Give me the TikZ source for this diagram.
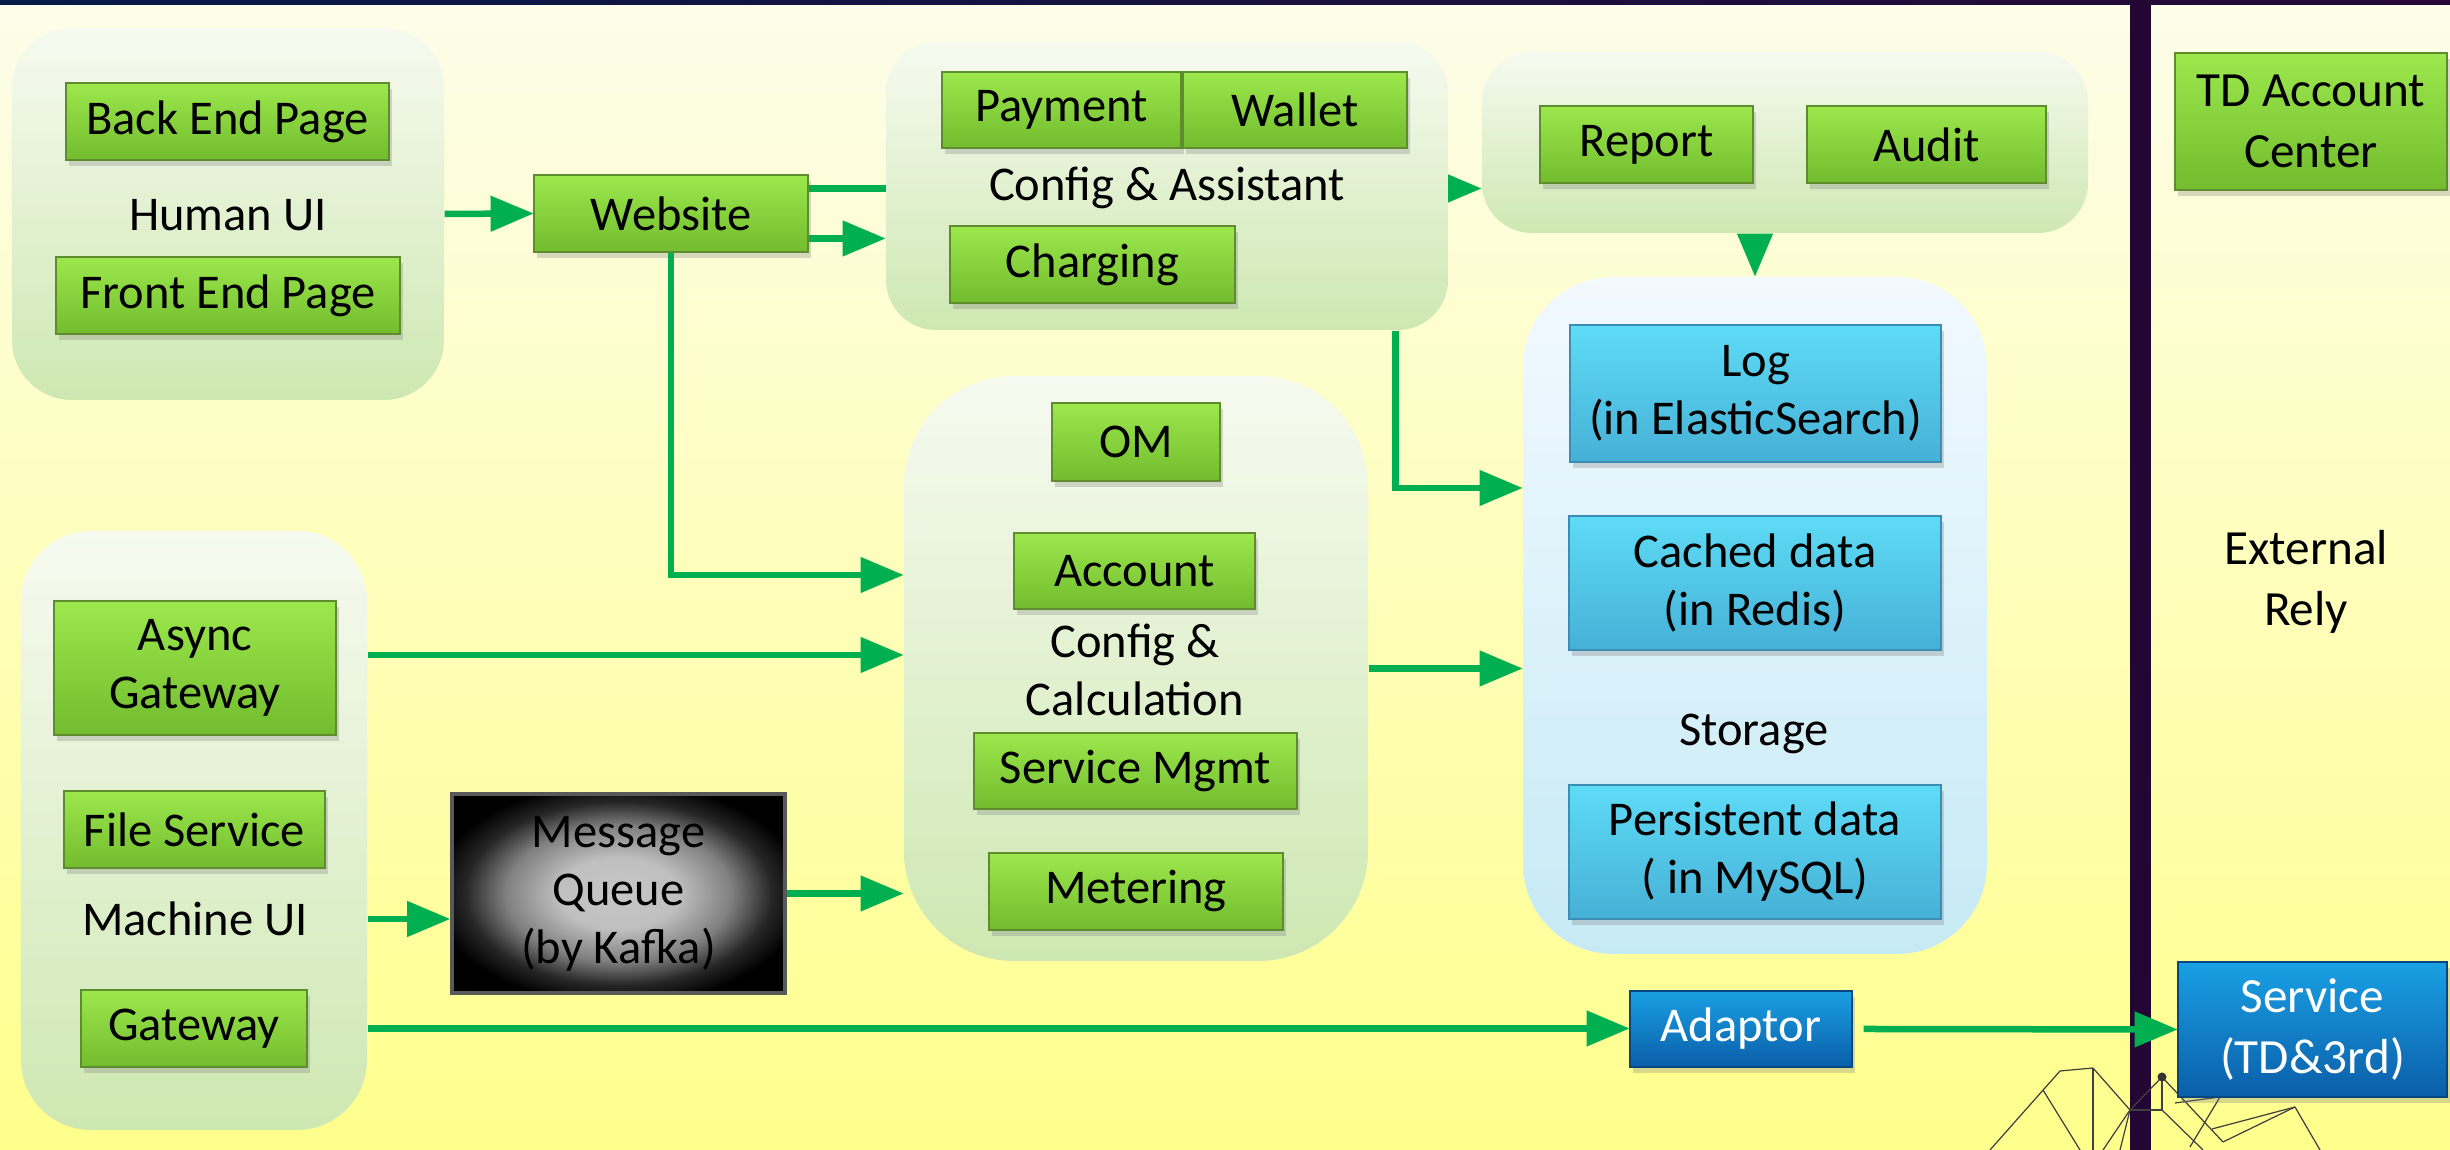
\documentclass[tikz,border=0pt]{standalone}
\usepackage{fontspec}
\setmainfont{Carlito}
\usepackage{tikz}
\usetikzlibrary{shapes,arrows,shadows}

\pgfdeclareradialshading{mqglow}{\pgfpoint{0bp}{0bp}}{color(0bp)=(black!22); color(9bp)=(black!25); color(17bp)=(black!50); color(23bp)=(black!85); color(28bp)=(black); color(50bp)=(black)}

\begin{document}
\begin{tikzpicture}[
  grp/.style={inner sep=0pt, top color=grpTop, bottom color=grpBot},
  stgrp/.style={inner sep=0pt, top color=stTop, bottom color=stBot, rounded corners=9mm},
  gbox/.style={draw=gEdge, top color=gTop, bottom color=gBot, inner sep=0pt, align=center,
    font=\fontsize{13.8}{16.5}\selectfont,
    drop shadow={opacity=0.3, shadow xshift=0.03cm, shadow yshift=-0.06cm}},
  sbox/.style={gbox, draw=sEdge, top color=sTop, bottom color=sBot},
  bbox/.style={gbox, draw=bEdge, top color=bTop, bottom color=bBot, text=white},
  lbl/.style={align=center, font=\fontsize{13.8}{16.5}\selectfont},
  flow/.style={->, >=triangle 45, line width=1.85pt, draw=flowGreen},
  deco/.style={line width=0.35pt, draw=black!75}
]
\definecolor{bgTop}{RGB}{253,253,234}
\definecolor{bgBot}{RGB}{255,255,140}
\definecolor{barLeft}{RGB}{6,26,72}
\definecolor{barRight}{RGB}{40,8,54}
\definecolor{sideBar}{RGB}{36,6,52}
\definecolor{grpTop}{RGB}{246,250,240}
\definecolor{grpBot}{RGB}{206,232,178}
\definecolor{stTop}{RGB}{242,249,255}
\definecolor{stBot}{RGB}{198,234,245}
\definecolor{gTop}{RGB}{156,232,76}
\definecolor{gBot}{RGB}{114,188,46}
\definecolor{gEdge}{RGB}{94,140,46}
\definecolor{sTop}{RGB}{94,220,246}
\definecolor{sBot}{RGB}{70,176,214}
\definecolor{sEdge}{RGB}{60,140,180}
\definecolor{bTop}{RGB}{26,160,228}
\definecolor{bBot}{RGB}{10,94,168}
\definecolor{bEdge}{RGB}{8,70,130}
\definecolor{flowGreen}{RGB}{0,176,80}

\useasboundingbox (0,0) rectangle (24.5,11.5);
\shade[top color=bgTop, bottom color=bgBot] (0,0) rectangle (24.5,11.5);
\shade[left color=barLeft, right color=barRight] (0,11.45) rectangle (24.5,11.5);
\fill[sideBar] (21.30,0) rectangle (21.51,11.5);
\foreach \xa/\ya/\xb/\yb in {19.90/0.00/20.60/0.79, 20.60/0.79/20.93/0.82, 20.93/0.82/20.93/0.00,
    20.43/0.60/20.80/0.00, 20.93/0.82/21.30/0.40, 21.30/0.40/21.62/0.73, 21.30/0.40/21.62/0.40,
    21.62/0.73/21.62/0.40, 21.30/0.40/21.03/0.00, 21.30/0.40/21.20/0.00, 21.62/0.73/22.23/0.08,
    21.75/0.47/22.20/0.53, 22.20/0.53/21.90/0.03, 22.12/0.21/22.95/0.43, 22.23/0.08/22.95/0.43,
    22.95/0.43/23.20/0.00, 21.62/0.40/22.03/0.00}
  \draw[deco] (\xa,\ya) -- (\xb,\yb);
\fill[black!80] (21.62,0.73) circle (0.045);

\node[grp, rounded corners=6mm, minimum width=4.32cm, minimum height=3.72cm] (human) at (2.28,9.36) {};
\node[grp, rounded corners=5mm, minimum width=6.06cm, minimum height=1.81cm] (reportgrp) at (17.85,10.075) {};
\node[stgrp, minimum width=4.64cm, minimum height=6.77cm] (storage) at (17.55,5.345) {};
\node[grp, rounded corners=11mm, minimum width=4.64cm, minimum height=5.85cm] (calc) at (11.36,4.815) {};
\node[grp, rounded corners=7mm, minimum width=3.46cm, minimum height=5.99cm] (machine) at (1.94,3.195) {};

\node[gbox, minimum width=3.23cm, minimum height=0.77cm] (backend) at (2.275,10.285) {Back End Page};
\node[lbl] (humanlbl) at (2.28,9.35) {Human UI};
\node[gbox, minimum width=3.44cm, minimum height=0.77cm] (frontend) at (2.28,8.545) {Front End Page};
\node[gbox, minimum width=2.74cm, minimum height=0.77cm] (website) at (6.71,9.365) {Website};

\node[gbox, minimum width=2.13cm, minimum height=0.77cm] (report) at (16.465,10.055) {Report};
\node[gbox, minimum width=2.39cm, minimum height=0.77cm] (audit) at (19.265,10.055) {Audit};

\node[sbox, minimum width=3.71cm, minimum height=1.37cm] (log) at (17.555,7.565) {Log\\(in ElasticSearch)};
\node[sbox, minimum width=3.72cm, minimum height=1.34cm] (cached) at (17.55,5.67) {Cached data\\(in Redis)};
\node[lbl] (storagelbl) at (17.54,4.16) {Storage};
\node[sbox, minimum width=3.72cm, minimum height=1.34cm] (persist) at (17.55,2.98) {Persistent data\\( in MySQL)};

\node[gbox, minimum width=1.68cm, minimum height=0.78cm] (om) at (11.36,7.08) {OM};
\node[gbox, minimum width=2.41cm, minimum height=0.76cm] (account) at (11.345,5.79) {Account};
\node[lbl] (calclbl) at (11.35,4.80) {Config \&\\Calculation};
\node[gbox, minimum width=3.23cm, minimum height=0.76cm] (svcmgmt) at (11.355,3.79) {Service Mgmt};
\node[gbox, minimum width=2.94cm, minimum height=0.77cm] (metering) at (11.36,2.585) {Metering};

\node[gbox, minimum width=2.82cm, minimum height=1.34cm] (async) at (1.95,4.82) {Async\\Gateway};
\node[gbox, minimum width=2.61cm, minimum height=0.77cm] (filesvc) at (1.945,3.205) {File Service};
\node[lbl] (machinelbl) at (1.95,2.31) {Machine UI};
\node[gbox, minimum width=2.26cm, minimum height=0.77cm] (gateway) at (1.94,1.215) {Gateway};

\node[draw=black!65, line width=1.2pt, shading=mqglow, inner sep=0pt,
  minimum width=3.33cm, minimum height=1.99cm, align=center, font=\fontsize{13.8}{16.5}\selectfont]
  (mq) at (6.185,2.565) {Message\\Queue\\(by Kafka)};

\node[bbox, minimum width=2.22cm, minimum height=0.76cm] (adaptor) at (17.41,1.21) {Adaptor};
\node[bbox, minimum width=2.69cm, minimum height=1.35cm, font=\fontsize{14}{17.5}\selectfont] (service) at (23.125,1.205) {Service\\(TD\&3rd)};
\node[gbox, minimum width=2.72cm, minimum height=1.37cm, font=\fontsize{14}{17.5}\selectfont] (tdacc) at (23.11,10.285) {TD Account\\Center};
\node[lbl, font=\fontsize{14}{17.5}\selectfont] (extlbl) at (23.06,5.68) {External\\Rely};

\draw[flow] ([yshift=2.5mm]website.east) -- ([yshift=2.5mm]website.east -| reportgrp.west);

\node[grp, rounded corners=5mm, minimum width=5.62cm, minimum height=2.88cm] (confasst) at (11.67,9.64) {};
\node[gbox, minimum width=2.39cm, minimum height=0.76cm] (payment) at (10.615,10.40) {Payment};
\node[gbox, minimum width=2.24cm, minimum height=0.76cm] (wallet) at (12.95,10.40) {Wallet};
\node[lbl] (asstlbl) at (11.67,9.62) {Config \& Assistant};
\node[gbox, minimum width=2.85cm, minimum height=0.77cm] (charging) at (10.925,8.855) {Charging};

\draw[flow] (human.east) -- (website.west);
\draw[flow] ([yshift=-2.5mm]website.east) -- ([yshift=-2.5mm]website.east -| confasst.west);
\draw[flow] (website.south) |- ([yshift=9.35mm]calc.west);
\draw[flow] ([yshift=1.3mm]async.east -| machine.east) -- ([yshift=1.3mm]async.east -| calc.west);
\draw[flow] (machinelbl -| machine.east) -- (machinelbl -| mq.west);
\draw[flow] (mq.east) -- (mq.east -| calc.west);
\draw[flow] ([xshift=-5.3mm]confasst.south east) |- ([yshift=12.75mm]storage.west);
\draw[flow] (calc.east) -- (calc.east -| storage.west);
\draw[flow] ([yshift=-0.5mm]reportgrp.south -| storage.north) -- (storage.north);
\draw[flow] (gateway.east -| machine.east) -- (gateway.east -| adaptor.west);
\draw[flow] ([xshift=1.1mm]adaptor.east) -- (service.west);
\end{tikzpicture}
\end{document}
